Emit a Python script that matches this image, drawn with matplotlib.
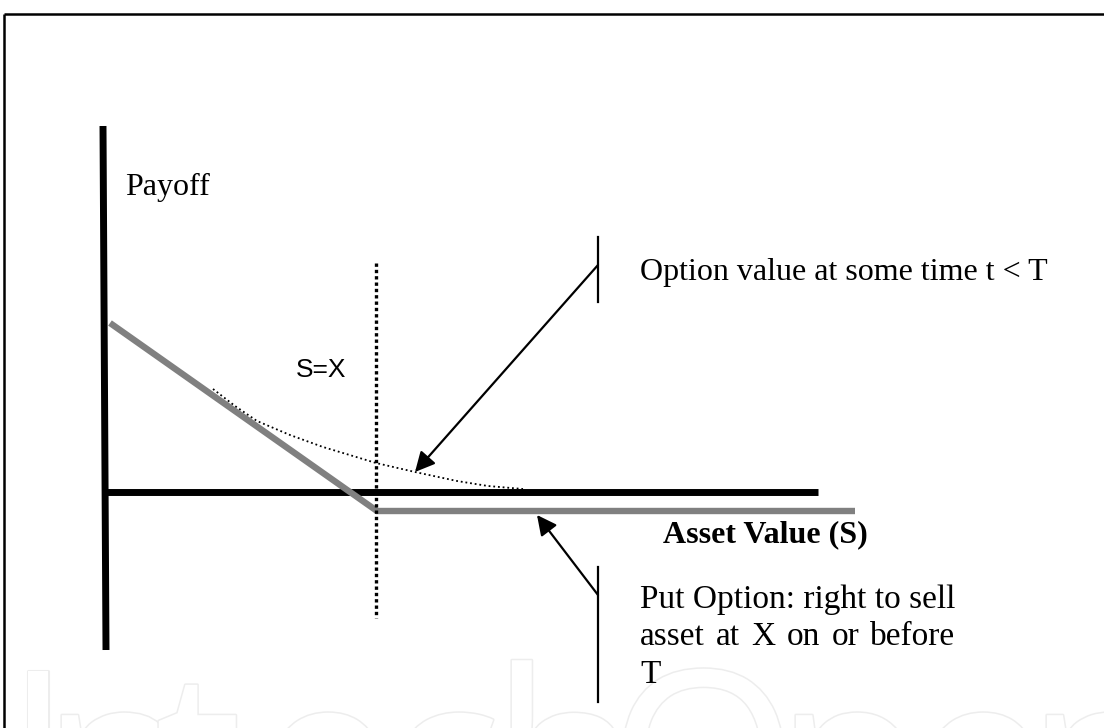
import matplotlib
matplotlib.use("Agg")
import matplotlib.pyplot as plt
import matplotlib.patheffects as pe

# Schematic put-option payoff diagram (units: asset value S, payoff)
strike = 27.3
payoff_s = [0.7, 27.4, 75.2]
payoff_v = [16.9, -1.9, -1.9]

# option value at some time t < T
curve_s = [11.0, 13.2, 15.4, 18.7, 22.0, 25.0, 27.3, 31.2, 35.4, 38.5, 42.0]
curve_v = [10.3, 8.6, 7.1, 5.7, 4.5, 3.6, 2.9, 2.0, 1.1, 0.6, 0.3]

payoff_axis_s = [0.0, 0.3]
payoff_axis_v = [36.6, -15.8]
asset_axis_s = [0.0, 71.5]
strike_v = [22.9, -12.6]

fig = plt.figure(figsize=(11.04, 7.28), dpi=100)
ax = fig.add_axes([0, 0, 1, 1])
ax.set_xlim(-10.3, 100.1)
ax.set_ylim(-23.6, 49.2)
ax.axis("off")

serif = "Liberation Serif"

# faint watermark (outlined letters, only their tops show)
wm_letters = ["I", "n", "t", "e", "c", "h", "O", "p", "e", "n"]
wm_left = [-9.9, -6.2, 5.2, 15.4, 28.1, 38.8, 50.5, 67.2, 80.9, 92.3]
for ch, x in zip(wm_letters, wm_left):
    ax.text(x, -35.4, ch, fontsize=176, family="Open Sans", color="white",
            ha="left", va="baseline", zorder=0,
            path_effects=[pe.Stroke(linewidth=2.2, foreground="#ededed"), pe.Normal()])

# frame
ax.plot([-9.9, 100.1], [47.8, 47.8], color="black", lw=1.8, solid_capstyle="butt")
ax.plot([-9.9, -9.9], [47.8, -23.6], color="black", lw=1.8, solid_capstyle="butt")

# axes of the diagram
ax.plot(payoff_axis_s, payoff_axis_v, color="black", lw=5, solid_capstyle="butt", zorder=3)
ax.plot(asset_axis_s, [0, 0], color="black", lw=5, solid_capstyle="butt", zorder=3)

# payoff at expiry
ax.plot(payoff_s, payoff_v, color="#808080", lw=4.6, solid_capstyle="butt",
        solid_joinstyle="miter", zorder=4)

# strike line
ax.plot([strike, strike], strike_v, color="black", lw=2.4, linestyle=(0, (1, 0.9)), zorder=5)

# option value before expiry
ax.plot(curve_s, curve_v, color="black", lw=1.3, linestyle=(0, (1, 1.6)), zorder=5)

# callouts
ax.annotate("", xy=(31.2, 2.0), xytext=(49.5, 22.7),
            arrowprops=dict(arrowstyle="-|>", color="black", lw=1.6,
                            mutation_scale=30, shrinkA=0, shrinkB=0), zorder=6)
ax.plot([49.5, 49.5], [25.5, 19.0], color="black", lw=1.6)
ax.annotate("", xy=(43.4, -2.3), xytext=(49.5, -10.3),
            arrowprops=dict(arrowstyle="-|>", color="black", lw=1.6,
                            mutation_scale=30, shrinkA=0, shrinkB=0), zorder=6)
ax.plot([49.5, 49.5], [-7.5, -21.0], color="black", lw=1.6)

# labels
ax.text(2.2, 29.7, "Payoff", fontsize=23, family=serif, va="baseline")
ax.text(19.3, 11.5, "S=X", fontsize=19, family="Liberation Sans", va="baseline")
ax.text(53.7, 21.2, "Option value at some time t < T", fontsize=23, family=serif,
        va="baseline")
ax.text(56.0, -5.0, "Asset Value (S)", fontsize=23, family=serif, weight="bold",
        va="baseline")

line1 = ax.text(53.7, -11.6, "Put Option: right to sell", fontsize=24, family=serif,
                va="baseline")
ax.text(53.7, -19.1, "T", fontsize=24, family=serif, va="baseline")

# justified second line
fig.canvas.draw()
r = fig.canvas.get_renderer()
inv = ax.transData.inverted()
bb = line1.get_window_extent(r)
x0 = inv.transform((bb.x0, 0))[0]
x1 = inv.transform((bb.x1, 0))[0]
words = ["asset", "at", "X", "on", "or", "before"]
texts = [ax.text(0, -15.3, w, fontsize=24, family=serif, va="baseline") for w in words]
widths = []
for t in texts:
    b = t.get_window_extent(r)
    widths.append(inv.transform((b.x1, 0))[0] - inv.transform((b.x0, 0))[0])
gap = ((x1 - x0) - sum(widths)) / (len(words) - 1)
pos = x0
for t, w in zip(texts, widths):
    t.set_x(pos)
    pos += w + gap

fig.savefig("out.png", dpi=100)
